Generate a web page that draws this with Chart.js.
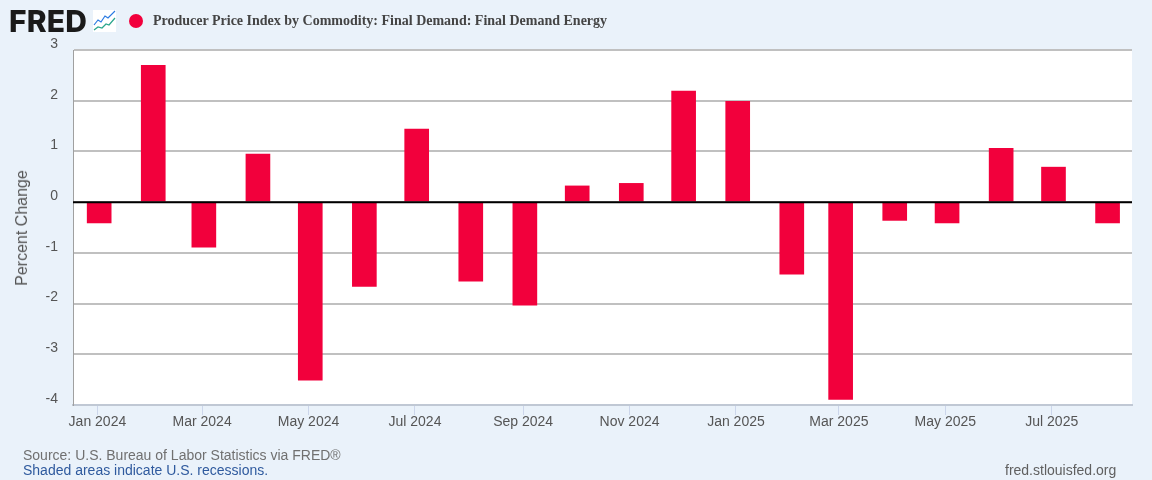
<!DOCTYPE html>
<html>
<head>
<meta charset="utf-8">
<script src="https://cdn.jsdelivr.net/npm/chart.js@4"></script>
<style>
  html, body { margin: 0; padding: 0; }
  body { width: 1152px; height: 480px; background: #eaf2fa; overflow: hidden; position: relative; font-family: "Liberation Sans", Arial, sans-serif; }
  #wrap { position: absolute; left: 0; top: 0; width: 1152px; height: 480px; }
  .txt { position: absolute; white-space: nowrap; }
  #logo { left: 9px; top: 3px; font-size: 30px; font-weight: 800; color: #1a1a1a; letter-spacing: 0.2px; font-family: "Inter", "Liberation Sans", sans-serif; line-height: 36px; }
  #icon { position: absolute; left: 93px; top: 10px; }
  #dot { position: absolute; left: 129px; top: 14px; width: 14px; height: 14px; border-radius: 50%; background: #f2003c; }
  #title { left: 153px; top: 13px; font-family: "Liberation Serif", serif; font-weight: bold; font-size: 14px; color: #444; line-height: 16px; }
  #ylabel { left: 22px; top: 228px; font-size: 16px; color: #555; transform: translate(-50%, -50%) rotate(-90deg); }
  #src { left: 23px; top: 447px; font-size: 14px; color: #707070; line-height: 16px; }
  #rec { left: 23px; top: 462px; font-size: 14px; color: #2f5a9e; line-height: 16px; }
  #site { left: 1005px; top: 462px; font-size: 14px; color: #606060; line-height: 16px; }
</style>
</head>
<body>
<div id="wrap"><canvas id="ppiChart" width="1152" height="480"></canvas></div>
<div class="txt" id="logo">FRED</div>
<svg id="icon" width="23" height="22" viewBox="0 0 23 22">
  <rect width="23" height="22" fill="#ffffff"/>
  <polyline points="1,15 5,10 8,12 12,6 15,8 22,1" fill="none" stroke="#2a7ae2" stroke-width="1.2"/>
  <polyline points="1,20 5,17 9,18 13,14 16,15 22,8" fill="none" stroke="#2aa58c" stroke-width="1.2"/>
</svg>
<div id="dot"></div>
<div class="txt" id="title">Producer Price Index by Commodity: Final Demand: Final Demand Energy</div>
<div class="txt" id="ylabel">Percent Change</div>
<div class="txt" id="src">Source: U.S. Bureau of Labor Statistics via FRED®</div>
<div class="txt" id="rec">Shaded areas indicate U.S. recessions.</div>
<div class="txt" id="site">fred.stlouisfed.org</div>
<script>
// monthly observations
var months = ['2024-01-01', '2024-02-01', '2024-03-01', '2024-04-01', '2024-05-01', '2024-06-01', '2024-07-01', '2024-08-01', '2024-09-01', '2024-10-01',
  '2024-11-01', '2024-12-01', '2025-01-01', '2025-02-01', '2025-03-01', '2025-04-01', '2025-05-01', '2025-06-01', '2025-07-01', '2025-08-01'];
var pctChange = [-0.41, 2.70, -0.89, 0.95, -3.51, -1.66, 1.44, -1.56, -2.03, 0.32,
  0.37, 2.19, 1.99, -1.42, -3.89, -0.36, -0.41, 1.06, 0.69, -0.41];
var tickMonths = ['2024-01-01', '2024-03-01', '2024-05-01', '2024-07-01', '2024-09-01', '2024-11-01', '2025-01-01', '2025-03-01', '2025-05-01', '2025-07-01'];
var tickLabels = ['Jan 2024', 'Mar 2024', 'May 2024', 'Jul 2024', 'Sep 2024', 'Nov 2024', 'Jan 2025', 'Mar 2025', 'May 2025', 'Jul 2025'];
var yTicks = [3, 2, 1, 0, -1, -2, -3, -4];

function dayNum(s) {
  return (Date.parse(s) - Date.parse('2024-01-01')) / 86400000;
}

var points = [];
for (var i = 0; i < months.length; i++) {
  points.push({ x: dayNum(months[i]), y: pctChange[i] });
}

var plotBack = {
  id: 'plotBack',
  beforeDraw: function (chart) {
    var a = chart.chartArea;
    chart.ctx.save();
    chart.ctx.fillStyle = '#ffffff';
    chart.ctx.fillRect(a.left, a.top, a.right - a.left, a.bottom - a.top);
    chart.ctx.restore();
  }
};

var zeroLine = {
  id: 'zeroLine',
  afterDatasetsDraw: function (chart) {
    var c = chart.ctx, y = chart.scales.y.getPixelForValue(0);
    c.save();
    c.strokeStyle = '#000';
    c.lineWidth = 2;
    c.beginPath();
    c.moveTo(chart.chartArea.left, y);
    c.lineTo(chart.chartArea.right, y);
    c.stroke();
    c.restore();
  }
};

var ctx = document.getElementById('ppiChart').getContext('2d');
new Chart(ctx, {
  type: 'bar',
  data: {
    datasets: [{
      label: 'Producer Price Index by Commodity: Final Demand: Final Demand Energy',
      data: points,
      backgroundColor: '#f2003c',
      borderWidth: 0,
      barThickness: 24
    }],
  },
  plugins: [plotBack, zeroLine],
  options: {
    responsive: false,
    animation: false,
    layout: { padding: { left: 0, right: 20, top: 50, bottom: 0 } },
    plugins: {
      legend: { display: false },
      tooltip: { enabled: false }
    },
    scales: {
      x: {
        type: 'linear',
        min: -15,
        max: 592,
        offset: false,
        afterBuildTicks: function (axis) {
          axis.ticks = tickMonths.map(function (m) { return { value: dayNum(m) - 1 }; });
        },
        afterFit: function (axis) { axis.height = 75; },
        grid: {
          offset: false,
          drawOnChartArea: false,
          drawTicks: true,
          tickLength: 10,
          tickColor: '#ccd6eb',
          tickWidth: 1
        },
        border: { color: '#c0c8d4', width: 2 },
        ticks: {
          autoSkip: false,
          maxRotation: 0,
          padding: -1,
          color: '#555',
          font: { family: '"Liberation Sans", Arial, sans-serif', size: 14 },
          callback: function (v, idx) { return tickLabels[idx]; }
        }
      },
      y: {
        min: -4,
        max: 3,
        afterBuildTicks: function (axis) {
          axis.ticks = yTicks.map(function (v) { return { value: v }; });
        },
        afterFit: function (axis) { axis.width = 73; },
        grid: {
          color: '#c0c0c0',
          lineWidth: 2,
          drawTicks: false
        },
        border: { color: '#a0a0a0', width: 1 },
        ticks: {
          padding: 15,
          labelOffset: -6,
          color: '#555',
          font: { family: '"Liberation Sans", Arial, sans-serif', size: 14 }
        }
      }
    }
  }
});
</script>
</body>
</html>
